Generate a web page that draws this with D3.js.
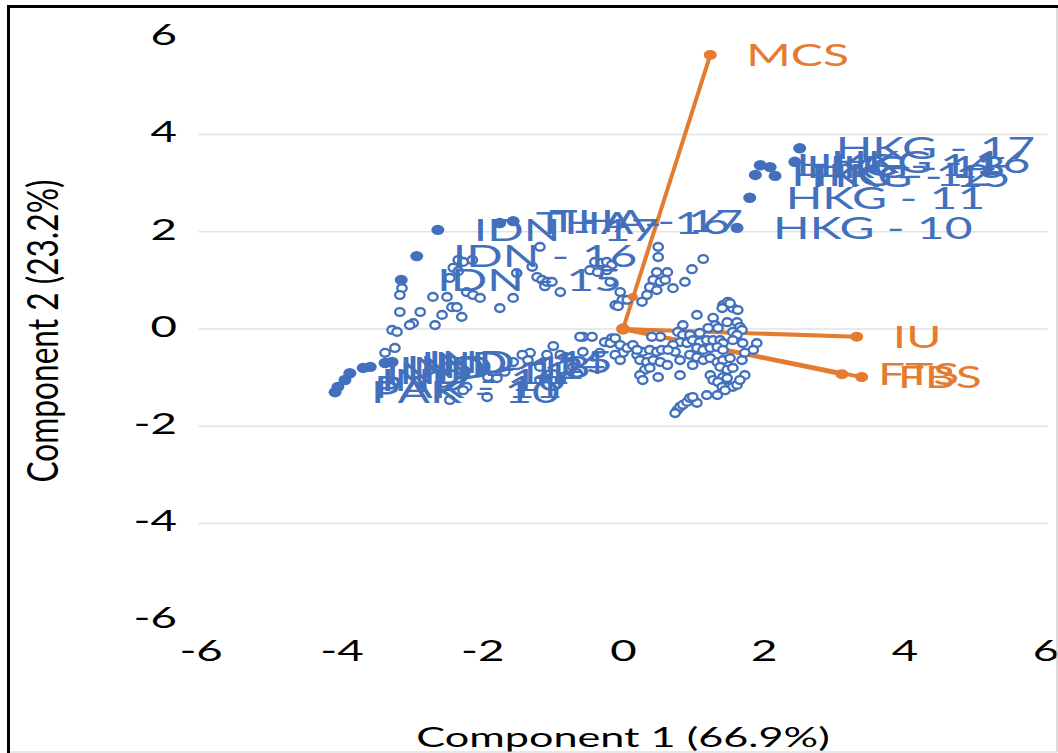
<!DOCTYPE html>
<html><head><meta charset="utf-8">
<script src="https://cdn.jsdelivr.net/npm/d3@7"></script>
<style>html,body{margin:0;padding:0;background:#fff;} svg{display:block;}</style>
</head><body>
<script>
// ---------- data ----------
const xTicks = [-6, -4, -2, 0, 2, 4, 6];
const yTicks = [-6, -4, -2, 0, 2, 4, 6];
const gridValues = [-4, -2, 0, 2, 4];
const xTitle = "Component 1 (66.9%)";
const yTitle = "Component 2 (23.2%)";

// variable loadings (orange)
const loadingNames = ["MCS", "IU", "FTS", "FBS"];
const loadingPC1 = [1.24, 3.32, 3.11, 3.39];
const loadingPC2 = [5.64, -0.16, -0.93, -0.99];
const loadingMidDots = [[0.14, 0.66]];

// labelled observations (filled blue)
const labelNames = ["HKG - 10","HKG - 11","HKG - 12","HKG - 13","HKG - 14","HKG - 15","HKG - 16","HKG - 17",
  "IDN - 15","IDN - 16","IDN - 17","THA - 16","THA - 17",
  "PAK - 10","PAK - 11","IND - 10","IND - 11","IND - 12","IND - 13","IND - 14","IND - 15"];
const labelPC1 = [1.62,1.80,1.88,2.09,1.95,2.16,2.44,2.51,
  -3.15,-2.93,-2.63,-1.75,-1.56,
  -4.09,-4.05,-3.95,-3.88,-3.69,-3.59,-3.38,-3.28];
const labelPC2 = [2.08,2.70,3.17,3.33,3.37,3.15,3.44,3.72,
  1.01,1.50,2.04,2.18,2.22,
  -1.30,-1.19,-1.05,-0.91,-0.80,-0.78,-0.70,-0.68];

// unlabelled observations (hollow blue), [PC1, PC2]
const arcScores = [[-1.18,1.69],[-2.34,1.42],[-2.27,1.38],[-2.14,1.42],[-2.41,1.26],[-2.34,1.19],[-3.14,0.84],[-3.17,0.70],[-2.46,1.05],[-2.70,0.66],
  [-2.50,0.66],[-2.22,0.76],[-2.13,0.70],[-2.03,0.64],[-1.51,1.15],[-1.29,1.28],[-1.22,1.07],[-1.15,1.01],[-1.11,0.88],[-1.56,0.64],
  [-1.75,0.43],[-3.17,0.35],[-2.88,0.35],[-2.57,0.29],[-2.43,0.45],[-2.36,0.45],[-2.29,0.25],[-2.98,0.12],[-3.03,0.08],[-2.67,0.08],
  [-3.28,-0.02],[-3.21,-0.06],[-0.89,0.76],[-1.08,0.97],[-1.01,0.97]];
const upperScores = [[0.50,1.69],[0.50,1.48],[1.14,1.44],[0.98,1.23],[0.88,0.97],[0.71,0.84],[0.48,1.17],[0.63,1.17],[0.43,1.01],[0.53,0.97],
  [0.60,1.01],[0.38,0.86],[0.48,0.80],[0.34,0.70],[0.27,0.56],[-0.40,1.38],[-0.30,1.36],[-0.23,1.38],[-0.16,1.32],[-0.47,1.21],
  [-0.36,1.17],[-0.23,1.21],[-0.18,0.97],[-0.04,0.76],[-0.01,0.60],[0.06,0.60],[-0.11,0.49],[-0.07,0.47]];
const rightScores = [[1.42,0.49],[1.49,0.56],[1.56,0.43],[1.52,0.53],[1.41,0.43],[1.63,0.39],[1.05,0.29],[1.28,0.23],[1.31,0.08],[1.48,0.14],
  [0.85,0.08],[0.78,-0.06],[0.85,-0.12],[1.21,0.02],[1.35,0.02],[1.62,0.14],[1.66,0.04],[1.69,-0.02],[1.56,-0.06],[1.62,-0.12],
  [0.95,-0.12],[1.09,-0.08],[0.53,-0.16],[0.81,-0.27],[0.91,-0.29],[0.99,-0.23],[1.09,-0.27],[1.19,-0.23],[1.28,-0.23],[1.38,-0.23],
  [1.42,-0.29],[0.71,-0.33],[0.74,-0.47],[1.05,-0.39],[1.14,-0.43],[1.24,-0.39],[1.34,-0.37],[1.42,-0.43],[1.56,-0.23],[1.70,-0.29],
  [1.90,-0.29],[1.85,-0.43],[1.73,-0.49],[1.69,-0.64],[0.95,-0.53],[1.05,-0.58],[1.14,-0.64],[1.24,-0.60],[1.34,-0.68],[1.42,-0.64],
  [1.52,-0.60],[1.38,-0.78],[1.48,-0.84],[1.56,-0.80],[0.81,-0.64],[0.99,-0.74],[0.81,-0.95],[1.24,-0.95],[1.42,-0.99],[1.28,-1.05],
  [1.35,-1.09],[1.48,-1.01],[1.49,-1.19],[1.56,-1.19],[1.62,-1.15],[1.41,-1.19],[1.45,-1.26],[1.34,-1.36],[1.19,-1.36],[1.05,-1.52],
  [0.77,-1.67],[0.81,-1.60],[0.85,-1.56],[0.91,-1.50],[0.95,-1.42],[0.99,-1.40],[0.74,-1.73],[1.73,-0.95],[1.66,-1.05]];
const centreScores = [[-0.57,-0.16],[-0.44,-0.16],[-0.16,-0.19],[-0.26,-0.27],[-0.18,-0.29],[-0.11,-0.19],[-0.33,-0.49],[-0.04,-0.33],[0.00,-0.49],[0.06,-0.39],
  [0.14,-0.33],[-0.11,-0.53],[-0.04,-0.64],[0.20,-0.53],[0.28,-0.47],[0.38,-0.43],[0.48,-0.47],[0.55,-0.43],[0.64,-0.43],[0.24,-0.64],
  [0.34,-0.68],[0.43,-0.64],[0.53,-0.68],[0.63,-0.74],[0.31,-0.84],[0.38,-0.80],[0.24,-0.95],[0.28,-1.05],[0.50,-0.99],[0.41,-0.16],
  [0.20,-0.43],[-0.61,-0.16],[-0.99,-0.35],[-0.57,-0.47],[-0.71,-0.78],[-0.65,-0.91],[-0.89,-0.53],[-1.08,-0.53],[-1.32,-0.49],[-1.43,-0.53]];
const leftScores = [[-3.38,-0.49],[-3.24,-0.39],[-2.22,-1.19],[-2.46,-1.46],[-1.92,-0.99],[-1.79,-1.01],[-1.18,-1.05],[-1.11,-1.01],
  [-1.56,-0.68],[-1.35,-0.64],[-1.18,-0.78],[-0.89,-1.05],[-2.27,-1.26],[-1.93,-1.40],[-2.74,-0.84],[-1.68,-0.88]];

// ---------- drawing ----------
const W = 1058, H = 753, SX = 1.6;
const FONT = "Lato, 'Open Sans', sans-serif";
const BLUE = "#4270BD", ORANGE = "#E37C30";
const x = d3.scaleLinear().domain([-6, 6]).range([200.6, 1045.4]);
const y = d3.scaleLinear().domain([-6, 6]).range([620.6, 37.4]);

const svg = d3.select("body").append("svg").attr("width", W).attr("height", H);
svg.append("rect").attr("width", W).attr("height", H).attr("fill", "#fff");

// gridlines
svg.append("g").selectAll("line").data(gridValues).join("line")
  .attr("x1", x.range()[0] - 2).attr("x2", x.range()[1] + 2)
  .attr("y1", d => y(d)).attr("y2", d => y(d))
  .attr("stroke", "#e2e2e2").attr("stroke-width", 1.5);

// axes (labels only)
const yAxisG = svg.append("g").attr("transform", "translate(177,-3)")
  .call(d3.axisLeft(y).tickValues(yTicks).tickSize(0).tickPadding(0).tickFormat(d => String(d)));
yAxisG.select(".domain").remove();
yAxisG.selectAll("text").attr("x", 0).attr("dy", "0.36em").attr("text-anchor", "end")
  .attr("transform", `scale(${SX},1)`).attr("font-size", 28.5).attr("font-family", FONT).attr("fill", "#000");

const xAxisG = svg.append("g").attr("transform", "translate(0,651)")
  .call(d3.axisBottom(x).tickValues(xTicks).tickSize(0).tickPadding(0).tickFormat(d => String(d)));
xAxisG.select(".domain").remove();
xAxisG.selectAll("text").attr("y", 0).attr("dy", "0.36em").attr("text-anchor", "middle")
  .attr("transform", `scale(${SX},1)`).attr("font-size", 28.5).attr("font-family", FONT).attr("fill", "#000");

// axis titles
svg.append("text").attr("transform", `translate(623,737) scale(${SX},1)`)
  .attr("text-anchor", "middle").attr("dy", "0.36em").attr("font-size", 27)
  .attr("font-family", FONT).attr("fill", "#000").text(xTitle);
svg.append("text").attr("transform", `translate(42,331) scale(${SX},1) rotate(-90)`)
  .attr("text-anchor", "middle").attr("dy", "0.36em").attr("font-size", 27)
  .attr("textLength", 303).attr("lengthAdjust", "spacingAndGlyphs")
  .attr("font-family", FONT).attr("fill", "#000").text(yTitle);

// loading lines
const loadings = loadingNames.map((n, i) => ({ n, a: loadingPC1[i], b: loadingPC2[i] }));
svg.append("g").selectAll("line").data(loadings).join("line")
  .attr("x1", x(0)).attr("y1", y(0)).attr("x2", d => x(d.a)).attr("y2", d => y(d.b))
  .attr("stroke", ORANGE).attr("stroke-width", 4).attr("stroke-linecap", "round");

// hollow observations
const hollow = [].concat(arcScores, upperScores, rightScores, centreScores, leftScores);
svg.append("g").selectAll("ellipse").data(hollow).join("ellipse")
  .attr("cx", d => x(d[0])).attr("cy", d => y(d[1])).attr("rx", 4.7).attr("ry", 3.9)
  .attr("fill", "#fff").attr("stroke", BLUE).attr("stroke-width", 2.4);

// loading markers
svg.append("ellipse").attr("cx", x(0)).attr("cy", y(0)).attr("rx", 7).attr("ry", 5.8).attr("fill", ORANGE);
svg.append("g").selectAll("ellipse").data(loadings).join("ellipse")
  .attr("cx", d => x(d.a)).attr("cy", d => y(d.b)).attr("rx", 6.5).attr("ry", 5).attr("fill", ORANGE);
svg.append("g").selectAll("ellipse").data(loadingMidDots).join("ellipse")
  .attr("cx", d => x(d[0])).attr("cy", d => y(d[1])).attr("rx", 5).attr("ry", 4).attr("fill", ORANGE);

// labelled observations
const labelled = labelNames.map((n, i) => ({ n, a: labelPC1[i], b: labelPC2[i] }));
svg.append("g").selectAll("ellipse").data(labelled).join("ellipse")
  .attr("cx", d => x(d.a)).attr("cy", d => y(d.b)).attr("rx", 6.5).attr("ry", 5.2)
  .attr("fill", BLUE);

// labels
svg.append("g").selectAll("text").data(labelled).join("text")
  .attr("transform", d => `translate(${x(d.a) + 36},${y(d.b)}) scale(${SX},1)`)
  .attr("dy", "0.36em").attr("font-size", 30).attr("font-family", FONT).attr("fill", BLUE)
  .text(d => d.n);
svg.append("g").selectAll("text").data(loadings).join("text")
  .attr("transform", d => `translate(${x(d.a) + 36},${y(d.b)}) scale(${SX},1)`)
  .attr("dy", "0.36em").attr("font-size", 30).attr("font-family", FONT).attr("fill", ORANGE)
  .text(d => d.n);

// frame
svg.append("line").attr("x1", 1057).attr("x2", 1057).attr("y1", 6).attr("y2", 752).attr("stroke", "#c4c4c4").attr("stroke-width", 1.2);
svg.append("line").attr("x1", 8).attr("x2", 1057).attr("y1", 752).attr("y2", 752).attr("stroke", "#d0d0d0").attr("stroke-width", 1.2);
svg.append("line").attr("x1", 8.5).attr("x2", 8.5).attr("y1", 5).attr("y2", 753).attr("stroke", "#000").attr("stroke-width", 3);
svg.append("line").attr("x1", 7).attr("x2", 1058).attr("y1", 6.5).attr("y2", 6.5).attr("stroke", "#000").attr("stroke-width", 3);
</script>
</body></html>
